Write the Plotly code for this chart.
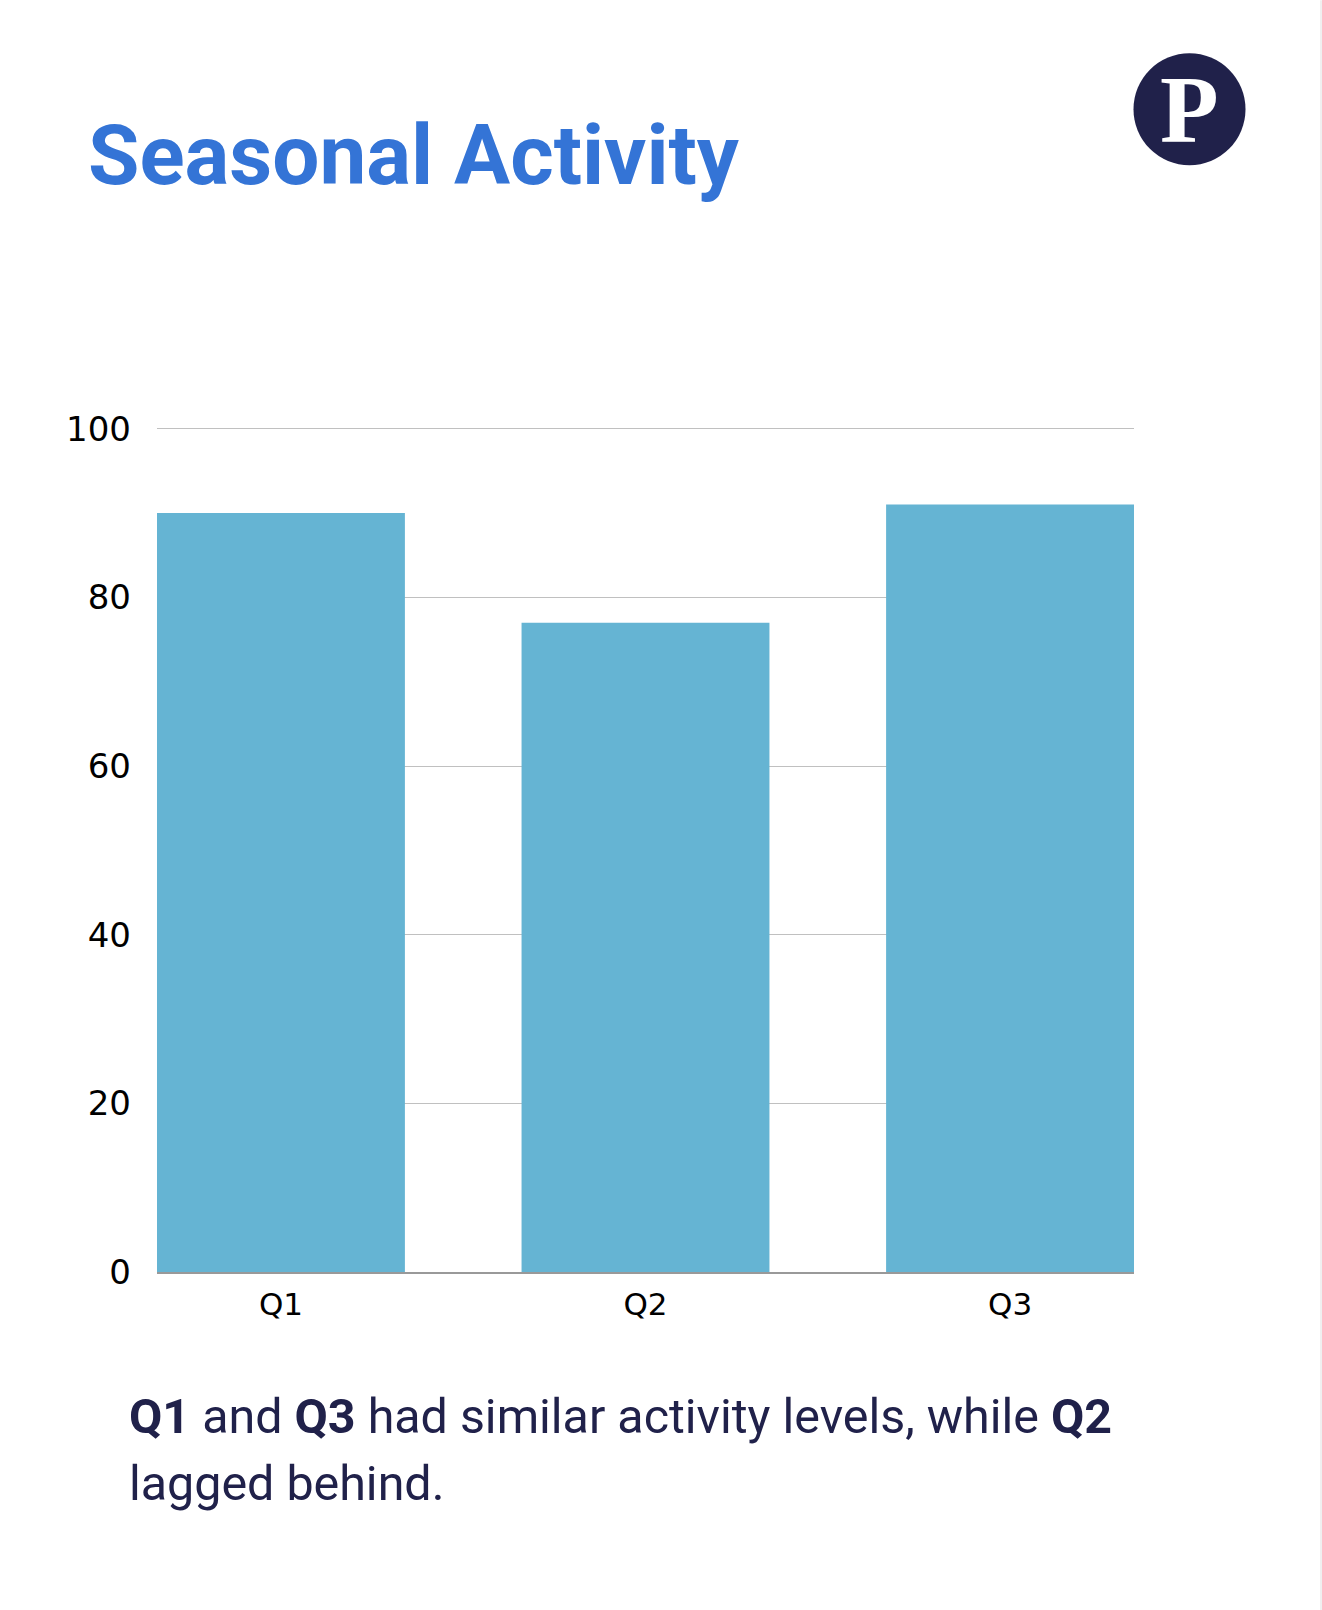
import plotly.graph_objects as go

quarters = ["Q1", "Q2", "Q3"]
activity = [90, 77, 91]
y_ticks = [0, 20, 40, 60, 80, 100]

# plot area in page pixels
W, H = 1322, 1610
LEFT, RIGHT, TOP, BOTTOM = 157, 1134, 426.8, 1272

NAVY = "#20214a"


def px(x):
    return (x - LEFT) / (RIGHT - LEFT)


def py(y):
    return (BOTTOM - y) / (BOTTOM - TOP)


fig = go.Figure(go.Bar(
    x=quarters,
    y=activity,
    width=0.68,
    marker=dict(color="#65b4d3", line=dict(width=0)),
    hoverinfo="x+y",
))

fig.update_layout(
    template="none",
    width=W,
    height=H,
    autosize=False,
    showlegend=False,
    paper_bgcolor="white",
    plot_bgcolor="white",
    margin=dict(l=LEFT, r=W - RIGHT, t=TOP, b=H - BOTTOM, pad=0),
    title=dict(
        text="<b>Seasonal Activity</b>",
        font=dict(family="Roboto", size=83.6, color="#3474d6"),
        x=88 / W, xanchor="left", xref="container",
        y=1 - 155 / H, yanchor="middle", yref="container",
    ),
    xaxis=dict(
        type="category",
        range=[-0.34, 2.34],
        showgrid=False,
        showline=True,
        linecolor="#999999",
        linewidth=1.5,
        ticks="",
        ticklabelstandoff=4,
        tickfont=dict(family="DejaVu Sans", size=31, color="#000000"),
    ),
    yaxis=dict(
        # a little headroom, otherwise plotly drops the gridline at 100
        range=[0, 100.2],
        tickvals=y_ticks,
        showgrid=True,
        gridcolor="#c0c0c0",
        gridwidth=1,
        zeroline=False,
        showline=False,
        ticks="",
        ticklabelstandoff=25,
        tickfont=dict(family="DejaVu Sans", size=34, color="#000000"),
    ),
)

# logo and the thin grey strip on the right edge
fig.add_shape(type="circle", xref="paper", yref="paper",
              x0=px(1133.5), x1=px(1245.5), y0=py(53), y1=py(165),
              fillcolor=NAVY, line=dict(width=0), layer="above")
fig.add_shape(type="rect", xref="paper", yref="paper",
              x0=px(1320), x1=px(1322), y0=py(0), y1=py(H),
              fillcolor="#f0f0f0", line=dict(width=0), layer="above")
fig.add_annotation(text="<b>P</b>", xref="paper", yref="paper",
                   x=px(1189), y=py(109), xanchor="center", yanchor="middle",
                   showarrow=False,
                   font=dict(family="Liberation Serif", size=96, color="white"))

# caption under the chart
fig.add_annotation(text="<b>Q1</b> and <b>Q3</b> had similar activity levels, while <b>Q2</b>",
                   xref="paper", yref="paper", x=px(127), y=py(1417),
                   xanchor="left", yanchor="middle", showarrow=False,
                   font=dict(family="Roboto", size=48.4, color=NAVY))
fig.add_annotation(text="lagged behind.",
                   xref="paper", yref="paper", x=px(127), y=py(1484),
                   xanchor="left", yanchor="middle", showarrow=False,
                   font=dict(family="Roboto", size=48.4, color=NAVY))

fig.write_html("out.html", config=dict(displayModeBar=False),
               post_script="document.body.style.margin='0';document.body.style.overflow='hidden';")
